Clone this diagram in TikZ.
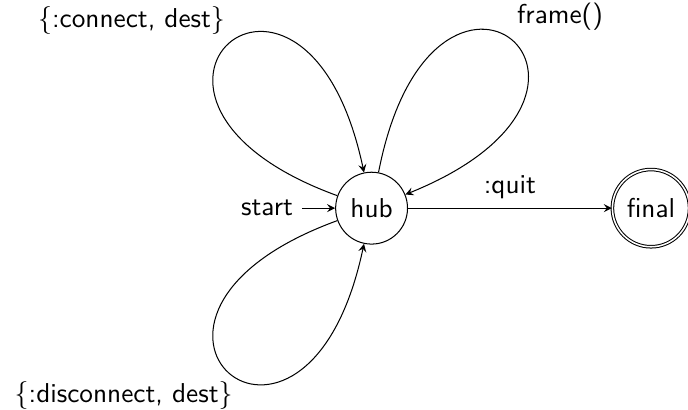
\documentclass[tikz,border=0pt]{standalone}
\usetikzlibrary{positioning}
\begin{document}
\begin{tikzpicture}[>=stealth, font=\sffamily\fontsize{10.7pt}{13pt}\selectfont,
  st/.style={circle, draw, inner sep=3.7pt},
  acc/.style={st, double}]
\useasboundingbox (-5.12,-2.771) rectangle (4.36,2.868);
\node[st] (hub) at (0,0) {hub};
\node[acc] (final) at (3.85,0) {final};
\node[left=13pt of hub] (start) {start};
\draw[->] (start) -- (hub);
\draw[->] (hub) -- node[above] (lquit) {:quit} (final);
\draw[->] (hub.160) .. controls +(160:3.9cm) and +(102:3.9cm) .. node[above left, xshift=2pt] (lconnect) {$\{$:connect, dest$\}$} (hub.102);
\draw[->] (hub.79) .. controls +(79:3.9cm) and +(22:3.9cm) .. node[above right, xshift=-1pt] (lframe) {frame()} (hub.22);
\draw[->] (hub.200) .. controls +(200:3.9cm) and +(258:3.9cm) .. node[below left, xshift=5pt] (ldisconnect) {$\{$:disconnect, dest$\}$} (hub.258);
\end{tikzpicture}
\end{document}
